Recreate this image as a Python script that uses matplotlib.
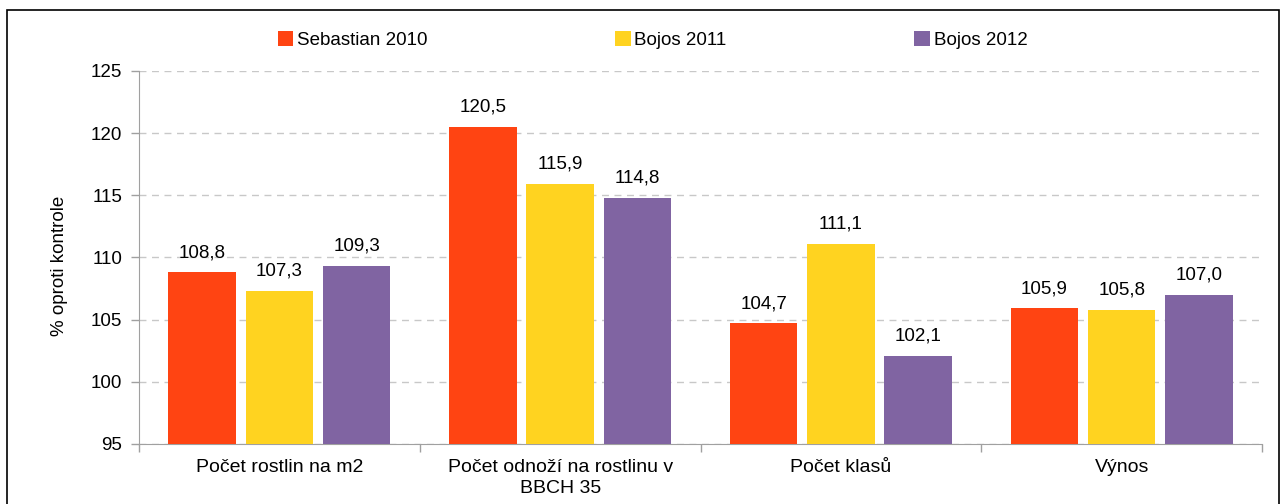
import matplotlib
matplotlib.use("Agg")
import matplotlib.pyplot as plt
import numpy as np
from matplotlib.patches import Rectangle

categories = ["Počet rostlin na m2", "Počet odnoží na rostlinu v\nBBCH 35", "Počet klasů", "Výnos"]
series_names = ["Sebastian 2010", "Bojos 2011", "Bojos 2012"]
sebastian_2010 = [108.8, 120.5, 104.7, 105.9]
bojos_2011 = [107.3, 115.9, 111.1, 105.8]
bojos_2012 = [109.3, 114.8, 102.1, 107.0]
colors = ["#FF4412", "#FFD320", "#8064A2"]

FS = 13.5
plt.rcParams['font.family'] = ['Liberation Sans', 'DejaVu Sans']
fig = plt.figure(figsize=(12.82, 5.04), dpi=100)
ax = fig.add_axes([139/1282, 1-444/504, (1262-139)/1282, (444-71)/504])

fig.patches.append(Rectangle((7/1282, -0.01), (1279-7)/1282, 1-10/504+0.01,
                             transform=fig.transFigure, fill=False, edgecolor='black', linewidth=1.2))

x = np.arange(len(categories))
w = 0.24
step = 0.275
base = 95
for i, (vals, name, c) in enumerate(zip([sebastian_2010, bojos_2011, bojos_2012], series_names, colors)):
    pos = x + (i - 1) * step
    ax.bar(pos, np.array(vals) - base, bottom=base, width=w, color=c, label=name, zorder=3)
    for p, v in zip(pos, vals):
        ax.annotate(f"{v:.1f}".replace('.', ','), (p, v), xytext=(0, 11), textcoords='offset points',
                    ha='center', va='baseline', fontsize=FS, color='black')

ax.set_xlim(-0.5, len(categories) - 0.5)
ax.set_ylim(95, 125)
ax.set_yticks(np.arange(95, 126, 5))
ax.yaxis.grid(True, linestyle=(0, (5, 4)), color='#C8C8C8', linewidth=1, zorder=0)
ax.set_axisbelow(True)
ax.set_xticks(np.arange(-0.5, len(categories), 1.0))
ax.set_xticklabels([])
ax.set_xticks(x, minor=True)
ax.set_xticklabels(categories, minor=True, fontsize=14, linespacing=1.25)
ax.tick_params(axis='x', which='minor', length=0, pad=11)
ax.tick_params(axis='x', which='major', length=6, color='#A0A0A0', width=1)
ax.tick_params(axis='y', length=6, color='#A0A0A0', width=1, labelsize=FS, pad=6)
for s in ['top', 'right']:
    ax.spines[s].set_visible(False)
for s in ['left', 'bottom']:
    ax.spines[s].set_color('#A0A0A0')
ax.set_ylabel("% oproti kontrole", fontsize=FS)
ax.yaxis.set_label_coords((68-139)/1123, 1-(266-71)/373)

leg = fig.legend(loc='center', bbox_to_anchor=(0.509, 1-40/504), ncol=3, frameon=False,
                 fontsize=FS, handlelength=0.83, handleheight=0.83, handletextpad=0.2,
                 columnspacing=10.0)

fig.savefig("out.png", dpi=100)
